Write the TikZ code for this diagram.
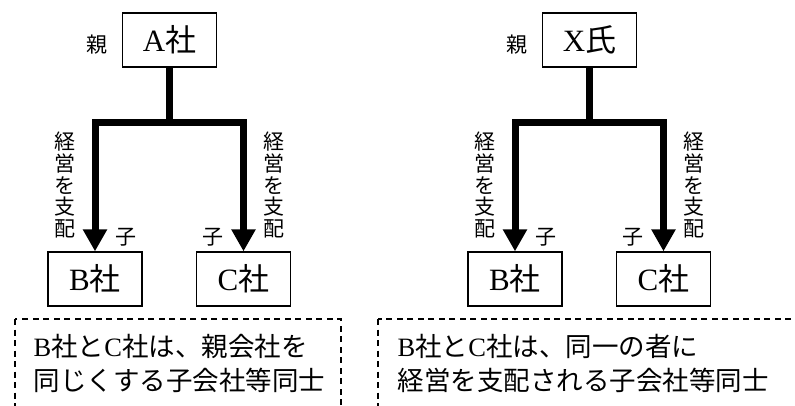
\documentclass[tikz,border=0pt]{standalone}
\usepackage{fontspec}
\setmainfont{Noto Sans CJK JP}
\newfontfamily\lat{Liberation Serif}
\usetikzlibrary{arrows.meta}

\begin{document}
\begin{tikzpicture}[x=1pt,y=-1pt,line width=1.3pt,
    box/.style={draw,minimum width=94pt,minimum height=54pt,inner sep=0pt,
                font=\fontsize{31}{31}\selectfont},
    small/.style={inner sep=0pt,font=\fontsize{21}{21}\selectfont},
    vert/.style={inner sep=0pt,align=center,font=\fontsize{21}{21.7}\selectfont},
    tree/.style={line width=7pt,line join=miter},
    note/.style={dash pattern=on 6pt off 4.5pt},
    notetext/.style={inner sep=0pt,anchor=west,align=left,
                     font=\fontsize{26.5}{34}\selectfont}]
  \useasboundingbox (0,0) rectangle (795,406);
  \clip (0,0) rectangle (795,406);
  \def\tip{{Triangle[length=22pt,width=23pt]}}
  \foreach \i/\gx/\L/\K in {1/0/A/社,2/420/X/氏} {
    \node (top\i) at (169.5+\gx,40) [box] {{\lat\L}\K};
    \node (oya\i) at (97+\gx,45) [small] {親};
    \node (b\i) at (95+\gx,279) [box] {{\lat B}社};
    \node (c\i) at (243.5+\gx,279) [box] {{\lat C}社};
    \coordinate (j\i) at (169.5+\gx,123);
    \draw[tree] (top\i) -- (j\i);
    \draw[tree,-\tip] (j\i) -| (b\i);
    \draw[tree,-\tip] (j\i) -| (c\i);
    \node (sl\i) at (65+\gx,185) [vert] {経\\営\\を\\支\\配};
    \node (sr\i) at (274+\gx,185) [vert] {経\\営\\を\\支\\配};
    \node (kl\i) at (126+\gx,237) [small] {子};
    \node (kr\i) at (213+\gx,237) [small] {子};
  }
  % dashed notes
  \draw[note] (15,319) rectangle (341,430);
  \draw[note] (378,319) rectangle (820,430);
  \node (n1) at (33,363) [notetext]
       {{\lat B}社と{\lat C}社は、親会社を\\同じくする子会社等同士};
  \node (n2) at (397,363) [notetext]
       {{\lat B}社と{\lat C}社は、同一の者に\\経営を支配される子会社等同士};
\end{tikzpicture}
\end{document}
